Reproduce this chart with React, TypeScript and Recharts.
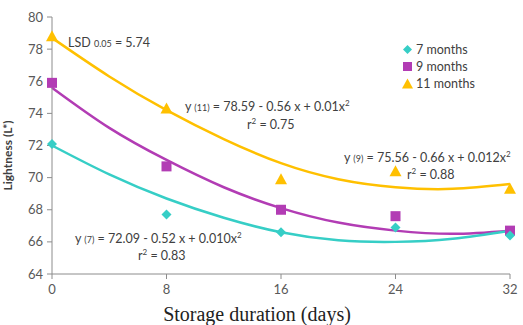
import React from "react";
import {
  ComposedChart,
  Line,
  Scatter,
  XAxis,
  YAxis,
} from "recharts";

// measured points (storage days vs lightness)
const days = [0, 8, 16, 24, 32];
const m7 = [72.1, 67.7, 66.6, 66.9, 66.4];
const m9 = [75.9, 70.7, 68.0, 67.6, 66.7];
const m11 = [78.8, 74.3, 69.9, 70.4, 69.3];

// trend lines, every 4 days
const fitDays = [0, 4, 8, 12, 16, 20, 24, 28, 32];
const fit7 = [72.0, 70.2, 68.7, 67.5, 66.6, 66.1, 66.0, 66.2, 66.7];
const fit9 = [75.6, 73.1, 71.1, 69.4, 68.1, 67.2, 66.7, 66.5, 66.7];
const fit11 = [78.7, 76.3, 74.2, 72.4, 70.9, 69.9, 69.4, 69.3, 69.6];

const xTicks = [0, 8, 16, 24, 32];
const yTicks = [64, 66, 68, 70, 72, 74, 76, 78, 80];

const TEAL = "#36CEC6";
const PURPLE = "#B23CB4";
const GOLD = "#FFC000";
const TEXT = "#404040";
const FONT = "Lato, 'Open Sans', sans-serif";

const toPoints = (xs: number[], ys: number[]) => xs.map((x, i) => ({ x, y: ys[i] }));

const Diamond = (props: any) => {
  const { cx, cy } = props;
  const r = 5;
  return <path d={`M${cx},${cy - r}L${cx + r},${cy}L${cx},${cy + r}L${cx - r},${cy}Z`} fill={TEAL} />;
};
const Square = (props: any) => {
  const { cx, cy } = props;
  return <rect x={cx - 5} y={cy - 5} width={10} height={10} fill={PURPLE} />;
};
const Triangle = (props: any) => {
  const { cx, cy } = props;
  return <path d={`M${cx},${cy - 6}L${cx + 6},${cy + 5}L${cx - 6},${cy + 5}Z`} fill={GOLD} />;
};

const legendItems = [
  { name: "7 months", color: TEAL, shape: "diamond" },
  { name: "9 months", color: PURPLE, shape: "square" },
  { name: "11 months", color: GOLD, shape: "triangle" },
];

const LegendIcon = ({ shape, color }: { shape: string; color: string }) => (
  <svg width={11} height={11} style={{ marginRight: 3 }}>
    {shape === "diamond" && <path d="M5.5,1L10,5.5L5.5,10L1,5.5Z" fill={color} />}
    {shape === "square" && <rect x={1} y={1} width={9} height={9} fill={color} />}
    {shape === "triangle" && <path d="M5.5,0.5L11,10.5L0,10.5Z" fill={color} />}
  </svg>
);

const annot: React.CSSProperties = {
  position: "absolute",
  fontFamily: FONT,
  fontSize: 12.5,
  color: TEXT,
  whiteSpace: "nowrap",
  lineHeight: 1,
};
const small: React.CSSProperties = { fontSize: 9 };

export default function App() {
  return (
    <div style={{ position: "absolute", left: 0, top: 0, width: 523, height: 325, background: "#fff" }}>
      <ComposedChart width={523} height={325} margin={{ top: 17, right: 13, bottom: 0, left: 0 }}>
        <XAxis
          type="number"
          dataKey="x"
          domain={[0, 32]}
          ticks={xTicks}
          height={51}
          stroke="#8C8C8C"
          tickSize={5}
          tickMargin={6}
          tick={{ fill: "#595959", fontSize: 13, fontFamily: FONT }}
          label={{
            value: "Storage duration (days)",
            position: "insideBottom",
            offset: 4,
            dx: -24,
            fill: "#222",
            fontSize: 20,
            fontFamily: "'Liberation Serif', 'DejaVu Serif', serif",
          }}
        />
        <YAxis
          type="number"
          domain={[64, 80]}
          ticks={yTicks}
          width={52}
          stroke="#8C8C8C"
          tickSize={5}
          tickMargin={4}
          tick={{ fill: "#595959", fontSize: 13, fontFamily: FONT }}
          label={{
            value: "Lightness (L*)",
            angle: -90,
            position: "insideLeft",
            offset: 8,
            dy: 45,
            fill: TEXT,
            fontSize: 12,
            fontWeight: 700,
            fontFamily: FONT,
          }}
        />
        <Line data={toPoints(fitDays, fit11)} dataKey="y" type="natural" stroke={GOLD} strokeWidth={2.5} dot={false} isAnimationActive={false} />
        <Line data={toPoints(fitDays, fit9)} dataKey="y" type="natural" stroke={PURPLE} strokeWidth={2.5} dot={false} isAnimationActive={false} />
        <Line data={toPoints(fitDays, fit7)} dataKey="y" type="natural" stroke={TEAL} strokeWidth={2.5} dot={false} isAnimationActive={false} />
        <Scatter data={toPoints(days, m11)} dataKey="y" shape={Triangle} isAnimationActive={false} />
        <Scatter data={toPoints(days, m9)} dataKey="y" shape={Square} isAnimationActive={false} />
        <Scatter data={toPoints(days, m7)} dataKey="y" shape={Diamond} isAnimationActive={false} />
      </ComposedChart>

      {/* legend */}
      <div style={{ position: "absolute", left: 402, top: 41, fontFamily: FONT, fontSize: 12.5, color: TEXT }}>
        {legendItems.map((it) => (
          <div key={it.name} style={{ display: "flex", alignItems: "center", height: 17 }}>
            <LegendIcon shape={it.shape} color={it.color} />
            {it.name}
          </div>
        ))}
      </div>

      {/* annotations */}
      <div style={{ ...annot, left: 68, top: 37 }}>
        LSD <span style={small}>0.05</span> = 5.74
      </div>
      <div style={{ ...annot, left: 185, top: 99 }}>
        y <span style={small}>(11)</span> = 78.59 - 0.56 x + 0.01x<sup style={{ fontSize: 8 }}>2</sup>
      </div>
      <div style={{ ...annot, left: 247, top: 117 }}>
        r<sup style={{ fontSize: 8 }}>2</sup> = 0.75
      </div>
      <div style={{ ...annot, left: 344, top: 150 }}>
        y <span style={small}>(9)</span> = 75.56 - 0.66 x + 0.012x<sup style={{ fontSize: 8 }}>2</sup>
      </div>
      <div style={{ ...annot, left: 407, top: 167 }}>
        r<sup style={{ fontSize: 8 }}>2</sup> = 0.88
      </div>
      <div style={{ ...annot, left: 75, top: 231 }}>
        y <span style={small}>(7)</span> = 72.09 - 0.52 x + 0.010x<sup style={{ fontSize: 8 }}>2</sup>
      </div>
      <div style={{ ...annot, left: 138, top: 248 }}>
        r<sup style={{ fontSize: 8 }}>2</sup> = 0.83
      </div>
    </div>
  );
}
